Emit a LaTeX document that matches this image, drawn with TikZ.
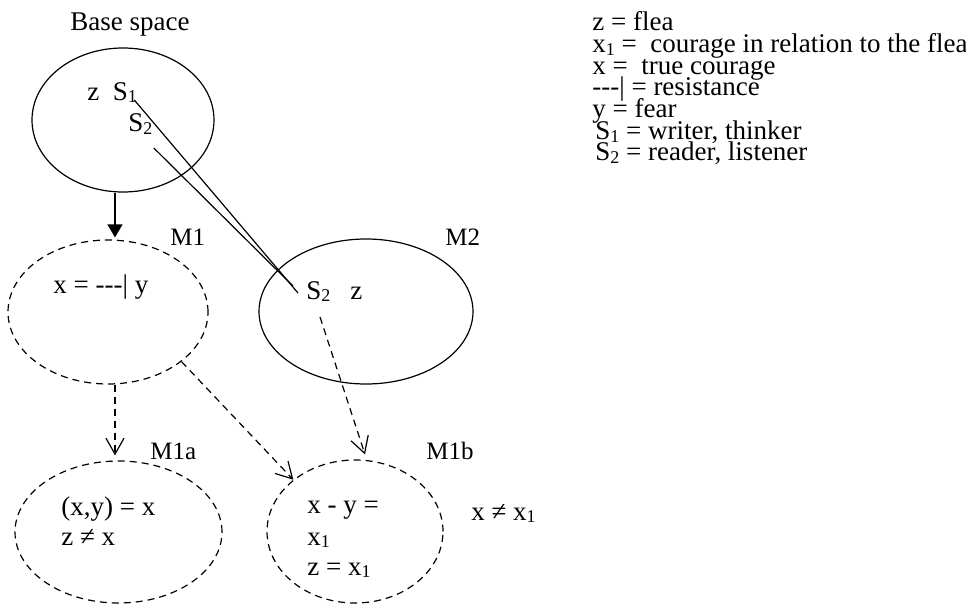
\documentclass[tikz,border=0pt]{standalone}
\usepackage{fontspec}
\setmainfont{Liberation Serif}
\usetikzlibrary{shapes.geometric,arrows.meta,calc}

% word-processor style subscript: two thirds size, lowered a little
\newcommand{\lowidx}[1]{\raisebox{-0.1em}{\fontsize{9}{9}\selectfont #1}}

\begin{document}
\begin{tikzpicture}[x=0.5pt,y=-0.5pt,
  txt/.style={inner sep=0pt, anchor=base west, font=\fontsize{13.5}{16}\selectfont},
  lbl/.style={inner sep=0pt, anchor=base west, font=\fontsize{12.5}{15}\selectfont},
  space/.style={ellipse, draw, line width=0.6pt, inner sep=0pt},
  dspace/.style={space, dash pattern=on 3.5pt off 2.5pt},
  link/.style={line width=0.6pt},
  solidarrow/.style={link, -{Triangle[length=6.5pt,width=7.5pt]}},
  dasharrow/.style={link, dash pattern=on 3.5pt off 2.5pt,
    -{Straight Barb[length=8pt,width=9pt,line width=0.6pt]}}]

\useasboundingbox (0,0) rectangle (966,605);

% mental spaces
\node[space]  (base)  at (123,120)   [minimum width=91pt,  minimum height=72pt]   {};
\node[dspace] (mone)  at (108,312)   [minimum width=100pt, minimum height=72pt]   {};
\node[space]  (mtwo)  at (366,311.5) [minimum width=107pt, minimum height=72.5pt] {};
\node[dspace] (monea) at (118.5,532) [minimum width=103.5pt, minimum height=71pt] {};
\node[dspace] (moneb) at (355,531.5) [minimum width=88pt,  minimum height=71.5pt] {};

% space titles
\node[txt] (title) at (70,31) {Base space};
\node[lbl] (lone)  at (170,245) {M1};
\node[lbl] (ltwo)  at (445,245) {M2};
\node[lbl] (lonea) at (150,459) {M1a};
\node[lbl] (loneb) at (426,459) {M1b};

% contents of the spaces
\node[txt] (zs)  at (87,100)  {z~~S\lowidx{1}};
\node[txt] (sb)  at (128,132) {S\lowidx{2}};
\node[txt] (rel) at (53,293)  {x = -{}-{}-| y};
\node[txt] (sm)  at (306,299) {S\lowidx{2}};
\node[txt] (zm)  at (350,299) {z};
\node[txt] (ta1) at (61,515)  {(x,y) = x};
\node[txt] (ta2) at (61,545)  {z ≠ x};
\node[txt] (tb1) at (307,513) {x - y =};
\node[txt] (tb2) at (307,545) {x\lowidx{1}};
\node[txt] (tb3) at (307,575) {z = x\lowidx{1}};
\node[txt] (neq) at (471,520) {x ≠ x\lowidx{1}};

% key
\node[txt] (k1) at (592,31)    {z = flea};
\node[txt] (k2) at (592,53)    {x\lowidx{1} =~ courage in relation to the flea};
\node[txt] (k3) at (592,74.5)  {x =~ true courage};
\node[txt] (k4) at (592,96)    {-{}-{}-| = resistance};
\node[txt] (k5) at (592,118)   {y = fear};
\node[txt] (k6) at (595,139.5) {S\lowidx{1} = writer, thinker};
\node[txt] (k7) at (595,161)   {S\lowidx{2} = reader, listener};

% connectors
\draw[solidarrow] ($(base.south)+(-8,0)$) -- ($(mone.north)+(7,-2)$);
\draw[link] ($(zs.base east)+(-3,0)$) -- ($(sm.base west)+(-8,-6)$);
\draw[link] ($(sb.base east)+(1,16)$) -- ($(sm.base west)+(-13,-13)$);
\draw[dasharrow] ($(mone.south)+(7,0)$) -- ($(monea.north)+(-3.5,-5)$);
\draw[dasharrow] (mone.-34) -- (moneb.140);
\draw[dasharrow] ($(mtwo.center)+(-46,5.5)$) -- ($(moneb.north)+(10,-5)$);
\end{tikzpicture}
\end{document}
